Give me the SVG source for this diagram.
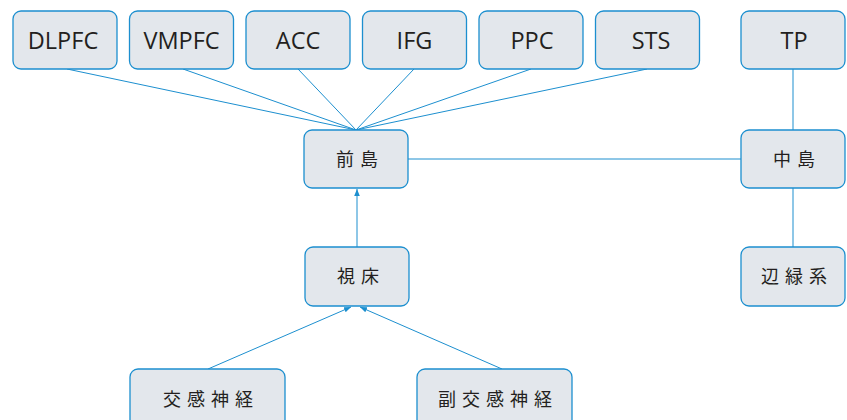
<svg xmlns="http://www.w3.org/2000/svg" width="847" height="420" viewBox="0 0 847 420">
<style>
.box{fill:#e3e7ec;stroke:#1c8fcf;stroke-width:1.3}
.lat{font-family:"Open Sans","Noto Sans",sans-serif;font-size:23.5px;fill:#231f20;text-anchor:middle}
.jp{font-family:"Noto Sans CJK JP",sans-serif;font-size:18px;fill:#231f20;text-anchor:middle;letter-spacing:6px}
.ln{stroke:#1c8fcf;stroke-width:1;fill:none}
</style>
<defs>
<marker id="ah" viewBox="0 0 10 10" refX="10" refY="5" markerWidth="7" markerHeight="7" orient="auto" markerUnits="userSpaceOnUse">
<path d="M0,1 L10,5 L0,9 Z" fill="#1c8fcf"/>
</marker>
</defs>
<g id="connectors">
<line class="ln" x1="67" y1="69" x2="356" y2="130"/>
<line class="ln" x1="183" y1="69" x2="356" y2="130"/>
<line class="ln" x1="298" y1="69" x2="356" y2="130"/>
<line class="ln" x1="414" y1="69" x2="356" y2="130"/>
<line class="ln" x1="531" y1="69" x2="356" y2="130"/>
<line class="ln" x1="647" y1="69" x2="356" y2="130"/>
<line class="ln" x1="408" y1="159" x2="741" y2="159"/>
<line class="ln" x1="793" y1="69" x2="793" y2="130"/>
<line class="ln" x1="793" y1="188" x2="793" y2="247"/>
<line class="ln" x1="357" y1="247" x2="357" y2="189" marker-end="url(#ah)"/>
<line class="ln" x1="208" y1="369" x2="351" y2="307" marker-end="url(#ah)"/>
<line class="ln" x1="502" y1="369" x2="360" y2="307" marker-end="url(#ah)"/>
</g>
<g id="DLPFC"><rect class="box" x="13" y="11" width="104" height="58" rx="8"/><text class="lat" x="63" y="49">DLPFC</text></g>
<g id="VMPFC"><rect class="box" x="129.5" y="11" width="104" height="58" rx="8"/><text class="lat" x="181.5" y="49">VMPFC</text></g>
<g id="ACC"><rect class="box" x="246" y="11" width="104" height="58" rx="8"/><text class="lat" x="298" y="49">ACC</text></g>
<g id="IFG"><rect class="box" x="362.5" y="11" width="104" height="58" rx="8"/><text class="lat" x="414.5" y="49">IFG</text></g>
<g id="PPC"><rect class="box" x="479" y="11" width="104" height="58" rx="8"/><text class="lat" x="532" y="49">PPC</text></g>
<g id="STS"><rect class="box" x="595.5" y="11" width="104" height="58" rx="8"/><text class="lat" x="651" y="49">STS</text></g>
<g id="TP"><rect class="box" x="741" y="11" width="104" height="58" rx="8"/><text class="lat" x="794" y="49">TP</text></g>
<g id="zentou"><rect class="box" x="304" y="130" width="104" height="58" rx="8"/><text class="jp" x="360" y="166">前島</text></g>
<g id="chutou"><rect class="box" x="741" y="130" width="104" height="58" rx="8"/><text class="jp" x="797" y="166">中島</text></g>
<g id="shishou"><rect class="box" x="305" y="247" width="104" height="59" rx="8"/><text class="jp" x="361" y="283">視床</text></g>
<g id="henenkei"><rect class="box" x="741" y="247" width="104" height="59" rx="8"/><text class="jp" x="797" y="283">辺緑系</text></g>
<g id="koukan"><rect class="box" x="130" y="369" width="155" height="60" rx="8"/><text class="jp" x="211" y="406">交感神経</text></g>
<g id="fukukoukan"><rect class="box" x="417" y="369" width="155" height="60" rx="8"/><text class="jp" x="498" y="406">副交感神経</text></g>
</svg>
